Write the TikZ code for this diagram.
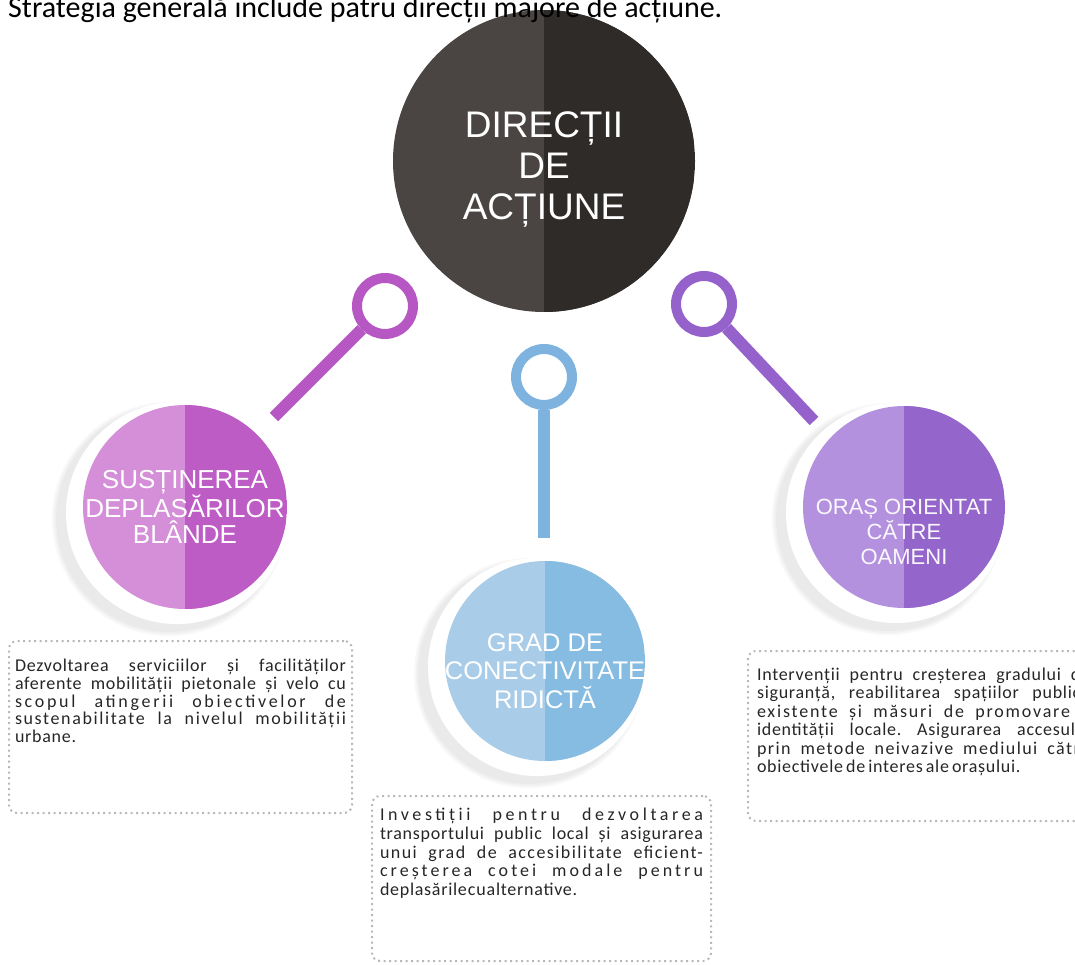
\documentclass[tikz,border=0pt]{standalone}
\usepackage{fontspec}
\setmainfont{Carlito}
\newfontfamily\headfont{Liberation Sans}
\newfontfamily\notefont[LetterSpace=4]{Carlito}
\usepackage{tikz}
\usetikzlibrary{positioning,calc}
\definecolor{hubl}{HTML}{4A4543}
\definecolor{hubr}{HTML}{2F2B29}
\definecolor{softl}{HTML}{D48FD8}
\definecolor{softr}{HTML}{BE5CC6}
\definecolor{softd}{HTML}{B657C3}
\definecolor{linkl}{HTML}{A9CDE9}
\definecolor{linkr}{HTML}{86BCE2}
\definecolor{linkd}{HTML}{7DB3DE}
\definecolor{cityl}{HTML}{B391DE}
\definecolor{cityr}{HTML}{9465CA}
\definecolor{cityd}{HTML}{9562CB}
\definecolor{dots}{HTML}{B8B8B8}
\definecolor{ink}{HTML}{262626}
\tikzset{
  % two-tone disc: left half #1, right half #2
  disc/.style 2 args = {circle, inner sep=0pt, fill=#1,
                        path picture={\fill[#2] (path picture bounding box.north)
                          rectangle (path picture bounding box.south east);}},
  disctext/.style = {font=\headfont\fontsize{26}{26.5}\selectfont, text=white,
                     align=center, inner sep=0pt},
  ring/.style     = {circle, draw=#1, line width=10pt, inner sep=0pt, minimum size=56pt},
  stem/.style     = {draw=#1, line width=12pt},
  note/.style     = {draw=dots, line width=2pt, dash pattern=on 2pt off 3.5pt,
                     rounded corners=8pt, inner ysep=0pt, anchor=north west, text=ink},
}
\newcommand{\notetext}[2]{\parbox[t][#1][t]{#2}}
\newcommand{\spread}[2]{{\addfontfeature{LetterSpace=#1}#2}}
\frenchspacing

\begin{document}
\begin{tikzpicture}[x=1pt,y=-1pt]
\useasboundingbox (0,0) rectangle (1075,964);
% soft halos behind the three directions
\foreach \cx/\cy/\r in {185/507/102, 545/661/100, 904/507/101} {
  \foreach \k in {15,13,11} {\fill[black, opacity=0.028] (\cx-16,\cy+12) circle ({(\r+\k)*1pt});}
  \fill[white] (\cx-8,\cy+6) circle ({(\r+9)*1pt});
}
% discs
\node[disc={hubl}{hubr}, minimum size=302pt] (hub) at (544,161) {};
\node[disc={softl}{softr}, minimum size=204pt] (soft) at (185,507) {};
\node[disc={linkl}{linkr}, minimum size=200pt] (link) at (545,661) {};
\node[disc={cityl}{cityr}, minimum size=202pt] (city) at (904,507) {};
% pins
\node[ring=softd] (pinsoft) at (385,306) {};
\node[ring=linkd] (pinlink) at (544,377) {};
\node[ring=cityd] (pincity) at (704,304) {};
\coordinate (endsoft) at (274,417);
\coordinate (endlink) at (544,538);
\coordinate (endcity) at (814,421);
\draw[stem=softd] (pinsoft) -- (endsoft);
\draw[stem=linkd] (pinlink) -- (endlink);
\draw[stem=cityd] (pincity) -- (endcity);
% disc labels
\node[disctext, font=\headfont\fontsize{37}{41}\selectfont] (hubtxt)
  at ([yshift=-8pt]hub.center) {DIRECȚII\\DE\\ACȚIUNE};
\node[disctext] (softtxt) at (soft.center) {SUSȚINEREA\\DEPLASĂRILOR\\BLÂNDE};
\node[disctext, font=\headfont\fontsize{25.5}{28.5}\selectfont] (linktxt)
  at ([yshift=-10pt]link.center) {GRAD DE\\CONECTIVITATE\\RIDICTĂ};
\node[disctext, font=\headfont\fontsize{22}{25}\selectfont, text=white!94!cityl] (citytxt)
  at ([yshift=-25pt]city.center) {ORAȘ ORIENTAT\\CĂTRE\\OAMENI};
% notes
\node[note, inner xsep=6pt] (notesoft) at (8,640) {\notetext{172pt}{331pt}{%
  \vspace*{18pt}\notefont\fontsize{18}{17.8}\selectfont
  Dezvoltarea serviciilor și facilităților\linebreak
  aferente mobilității pietonale și velo cu\linebreak
  \spread{15}{scopul atingerii obiectivelor de}\linebreak
  \spread{9}{sustenabilitate la nivelul mobilității}\linebreak
  urbane.}};
\node[note, inner xsep=8pt] (notelink) at (371,795) {\notetext{165pt}{323pt}{%
  \vspace*{12pt}\notefont\fontsize{18}{18.8}\selectfont
  \spread{20}{Investiții pentru dezvoltarea}\linebreak
  transportului public local și asigurarea\linebreak
  \spread{8}{unui grad de accesibilitate eficient-}\linebreak
  \spread{17}{creșterea cotei modale pentru}\linebreak
  {\spaceskip=1pt deplasările cu alternative.}}};
\node[note, inner xsep=9pt] (notecity) at (747,650) {\notetext{170pt}{333pt}{%
  \vspace*{17pt}\notefont\fontsize{18}{18.4}\selectfont
  Intervenții pentru creșterea gradului de\linebreak
  siguranță, reabilitarea spațiilor publice\linebreak
  \spread{10}{existente și măsuri de promovare a}\linebreak
  identității locale. Asigurarea accesului\linebreak
  \spread{8}{prin metode neivazive mediului către}\linebreak
  {\spaceskip=3pt obiectivele de interes ale orașului.}}};
% intro line, cut by the top edge
\node[anchor=base west, inner sep=0pt, font=\fontsize{30}{34}\selectfont] (intro)
  at (8,17) {Strategia generală include patru direcții majore de acțiune.};
\end{tikzpicture}
\end{document}
